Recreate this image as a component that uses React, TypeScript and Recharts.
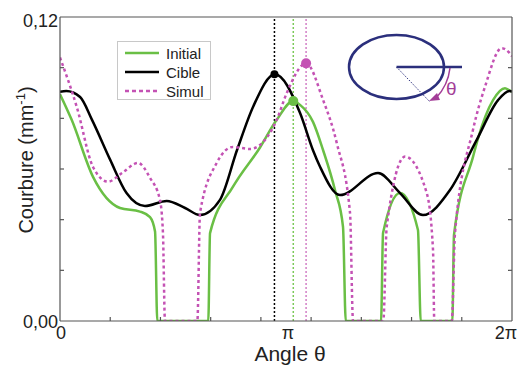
import { LineChart, Line, XAxis, YAxis, ReferenceLine, ReferenceDot } from "recharts";

// angle in degrees (0..360 = 0..2π), curvature in mm^-1
const initial = [
  { a: 0, v: 0.0895 }, { a: 9.3, v: 0.0794 }, { a: 26.3, v: 0.0569 }, { a: 47.8, v: 0.0446 },
  { a: 63.7, v: 0.0432 }, { a: 71.7, v: 0.041 }, { a: 75.7, v: 0.0353 }, { a: 77.5, v: 0 },
  { a: 118.1, v: 0 }, { a: 119.5, v: 0.0347 }, { a: 137.8, v: 0.053 }, { a: 159.3, v: 0.0685 },
  { a: 172.6, v: 0.0794 }, { a: 185.8, v: 0.0868 }, { a: 191.2, v: 0.0853 }, { a: 201.5, v: 0.0786 },
  { a: 209.5, v: 0.0675 }, { a: 219, v: 0.0517 }, { a: 225.4, v: 0.0372 }, { a: 227.6, v: 0 },
  { a: 255.7, v: 0 }, { a: 257.3, v: 0.0347 }, { a: 270.8, v: 0.0505 }, { a: 285.1, v: 0.0359 },
  { a: 287.3, v: 0 }, { a: 312.5, v: 0 }, { a: 313.8, v: 0.034 }, { a: 329, v: 0.0649 },
  { a: 333, v: 0.0722 }, { a: 344.9, v: 0.0872 }, { a: 354.4, v: 0.0919 }, { a: 358, v: 0.091 },
  { a: 360, v: 0.0905 },
];

const cible = [
  { a: 0, v: 0.0905 }, { a: 5, v: 0.0908 }, { a: 16, v: 0.0884 }, { a: 25.5, v: 0.0794 },
  { a: 40, v: 0.0636 }, { a: 53, v: 0.0505 }, { a: 67.7, v: 0.0454 }, { a: 85, v: 0.0474 },
  { a: 99.6, v: 0.0446 }, { a: 111.5, v: 0.0418 }, { a: 127.4, v: 0.0478 }, { a: 141, v: 0.0675 },
  { a: 154, v: 0.0848 }, { a: 171.2, v: 0.0974 }, { a: 191.2, v: 0.0821 }, { a: 201.4, v: 0.0675 },
  { a: 207.1, v: 0.0609 }, { a: 223, v: 0.0497 }, { a: 253.3, v: 0.0584 }, { a: 270.8, v: 0.0505 },
  { a: 289.1, v: 0.0418 }, { a: 310.6, v: 0.0517 }, { a: 331.9, v: 0.0715 }, { a: 348.9, v: 0.0872 },
  { a: 358, v: 0.0908 }, { a: 360, v: 0.0906 },
];

const simul = [
  { a: 0, v: 0.104 }, { a: 13.3, v: 0.0846 }, { a: 26.3, v: 0.0608 }, { a: 38.2, v: 0.055 },
  { a: 49.4, v: 0.0584 }, { a: 62.1, v: 0.0624 }, { a: 71.7, v: 0.0565 }, { a: 79.6, v: 0.0478 },
  { a: 82, v: 0.0347 }, { a: 83.6, v: 0 }, { a: 109.4, v: 0 }, { a: 111.5, v: 0.0426 },
  { a: 124.8, v: 0.0624 }, { a: 137.8, v: 0.0687 }, { a: 151.3, v: 0.0679 }, { a: 159.3, v: 0.0695 },
  { a: 172.6, v: 0.0794 }, { a: 180.6, v: 0.09 }, { a: 196, v: 0.1017 }, { a: 209.5, v: 0.0873 },
  { a: 220.4, v: 0.0703 }, { a: 231, v: 0.0426 }, { a: 233.4, v: 0 }, { a: 257.5, v: 0 },
  { a: 260.2, v: 0.0372 }, { a: 274.8, v: 0.0649 }, { a: 292.1, v: 0.0505 }, { a: 297.1, v: 0.028 },
  { a: 298.1, v: 0 }, { a: 312, v: 0 }, { a: 314.6, v: 0.0347 }, { a: 328.9, v: 0.0754 },
  { a: 338.5, v: 0.0925 }, { a: 351.8, v: 0.1077 }, { a: 357.6, v: 0.106 }, { a: 360, v: 0.1045 },
];

// maxima marked with a dot and a dotted vertical line
const peaks = [
  { a: 170.8, v: 0.0974, color: "#000000", line: "#000000", r: 4 },
  { a: 185.8, v: 0.0868, color: "#6abf45", line: "#7cc95a", r: 5 },
  { a: 196, v: 0.1017, color: "#c452b4", line: "#d27fc6", r: 5 },
];

const xTicks = [0, 40, 80, 120, 160, 180, 200, 240, 280, 320, 360];
const xLabels: Record<number, string> = { 0: "0", 180: "π", 360: "2π" };
const yTicks = [0, 0.02, 0.04, 0.06, 0.08, 0.1, 0.12];
const yLabels: Record<number, string> = { 0: "0,00", 0.12: "0,12" };

const legendItems = [
  { name: "Initial", color: "#6abf45", dash: undefined },
  { name: "Cible", color: "#000000", dash: undefined },
  { name: "Simul", color: "#c452b4", dash: "4 3" },
];

const GREEN = "#6abf45";
const PINK = "#c452b4";
const AXIS = "#555";
const NAVY = "#2b2f7c";
const PURPLE = "#a33d98";
const FONT = "'Liberation Sans', Arial, sans-serif";

const isMajor = (v: number) => v % 40 === 0 && v > 0 && v < 360;

function BottomTick({ x, y, payload }: any) {
  const v = payload.value;
  const label = xLabels[v];
  const tx = v === 360 ? x - 6 : v === 180 ? x + 2 : x + 1;
  return (
    <g>
      {isMajor(v) && <line x1={x} y1={y} x2={x} y2={y - 4} stroke={AXIS} strokeWidth={1.2} />}
      {label && (
        <text x={tx} y={y + 18} textAnchor="middle" fontSize={18} fill="#222" fontFamily={FONT}>
          {label}
        </text>
      )}
    </g>
  );
}

function TopTick({ x, y, payload }: any) {
  const v = payload.value;
  if (!isMajor(v)) return <g />;
  return <line x1={x} y1={y} x2={x} y2={y + 4} stroke={AXIS} strokeWidth={1.2} />;
}

function LeftTick({ x, y, payload }: any) {
  const v = payload.value;
  const label = yLabels[v];
  const inner = v > 0 && v < 0.12;
  return (
    <g>
      {inner && <line x1={x} y1={y} x2={x + 4} y2={y} stroke={AXIS} strokeWidth={1.2} />}
      {label && (
        <text x={x - 2} y={y + (v === 0 ? 7 : 10)} textAnchor="end" fontSize={18} fill="#222" fontFamily={FONT}>
          {label}
        </text>
      )}
    </g>
  );
}

function RightTick({ x, y, payload }: any) {
  const v = payload.value;
  if (!(v > 0 && v < 0.12)) return <g />;
  return <line x1={x} y1={y} x2={x - 4} y2={y} stroke={AXIS} strokeWidth={1.2} />;
}

export default function App() {
  return (
    <div style={{ position: "absolute", left: 0, top: 0, width: 520, height: 365, background: "#fff", fontFamily: FONT }}>
      <LineChart width={520} height={365} margin={{ top: 0, right: 0, bottom: 0, left: 0 }}>
        <XAxis
          type="number"
          dataKey="a"
          domain={[0, 360]}
          ticks={xTicks}
          interval={0}
          height={44}
          tickSize={0}
          tickMargin={0}
          tick={<BottomTick />}
          axisLine={{ stroke: AXIS, strokeWidth: 1.2 }}
          allowDataOverflow
        />
        <XAxis
          xAxisId="t"
          orientation="top"
          type="number"
          domain={[0, 360]}
          ticks={xTicks}
          interval={0}
          height={17}
          tickSize={0}
          tickMargin={0}
          tick={<TopTick />}
          axisLine={{ stroke: AXIS, strokeWidth: 1.2 }}
          allowDataOverflow
        />
        <YAxis
          type="number"
          domain={[0, 0.12]}
          ticks={yTicks}
          interval={0}
          width={60}
          tickSize={0}
          tickMargin={0}
          tick={<LeftTick />}
          axisLine={{ stroke: AXIS, strokeWidth: 1.2 }}
          allowDataOverflow
        />
        <YAxis
          yAxisId="r"
          orientation="right"
          type="number"
          domain={[0, 0.12]}
          ticks={yTicks}
          interval={0}
          width={8}
          tickSize={0}
          tickMargin={0}
          tick={<RightTick />}
          axisLine={{ stroke: AXIS, strokeWidth: 1.2 }}
          allowDataOverflow
        />
        {peaks.map((p) => (
          <ReferenceLine key={"l" + p.a} x={p.a} stroke={p.line} strokeWidth={1.5} strokeDasharray="2 2" />
        ))}
        <Line data={initial} dataKey="v" type="monotone" stroke={GREEN} strokeWidth={2.5} dot={false} isAnimationActive={false} />
        <Line data={cible} dataKey="v" type="monotone" stroke="#000" strokeWidth={2.5} dot={false} isAnimationActive={false} />
        <Line
          data={simul}
          dataKey="v"
          type="monotone"
          stroke={PINK}
          strokeWidth={2.5}
          strokeDasharray="3 3"
          dot={false}
          isAnimationActive={false}
        />
        {peaks.map((p) => (
          <ReferenceDot key={"d" + p.a} x={p.a} y={p.v} r={p.r} fill={p.color} stroke="none" />
        ))}
      </LineChart>

      <svg width={520} height={365} style={{ position: "absolute", left: 0, top: 0, pointerEvents: "none" }}>
        {/* legend */}
        <rect x={117.5} y={41.5} width={93} height={58} fill="#fff" stroke="#c8c8c8" strokeWidth={1} />
        {legendItems.map((it, i) => (
          <g key={it.name}>
            <line
              x1={125}
              x2={159}
              y1={53 + i * 19}
              y2={53 + i * 19}
              stroke={it.color}
              strokeWidth={2.5}
              strokeDasharray={it.dash}
            />
            <text x={166} y={58.5 + i * 19} fontSize={15} fill="#222" fontFamily={FONT}>
              {it.name}
            </text>
          </g>
        ))}

        {/* inset sketch */}
        <ellipse cx={396.5} cy={67} rx={47.5} ry={32} fill="none" stroke={NAVY} strokeWidth={2.5} />
        <line x1={396.5} y1={67} x2={462} y2={67} stroke={NAVY} strokeWidth={2.5} />
        <line x1={396.5} y1={67} x2={430} y2={102} stroke={NAVY} strokeWidth={1} strokeDasharray="1.5 1.5" />
        <path d="M 450 68 A 52 52 0 0 1 436 98" fill="none" stroke={PURPLE} strokeWidth={1.5} />
        <polygon points="429,101 437,93 440,100" fill={PURPLE} />
        <text x={446} y={95} fontSize={19} fill={PURPLE} fontFamily={FONT}>
          θ
        </text>

        {/* axis titles */}
        <text x={290} y={361} textAnchor="middle" fontSize={21} fill="#222" fontFamily={FONT}>
          Angle θ
        </text>
        <text
          transform="translate(33,160) rotate(-90)"
          textAnchor="middle"
          fontSize={20}
          fill="#222"
          fontFamily={FONT}
        >
          Courbure (mm
          <tspan fontSize={13} dy={-8}>
            -1
          </tspan>
          <tspan dy={8}>)</tspan>
        </text>
      </svg>
    </div>
  );
}
